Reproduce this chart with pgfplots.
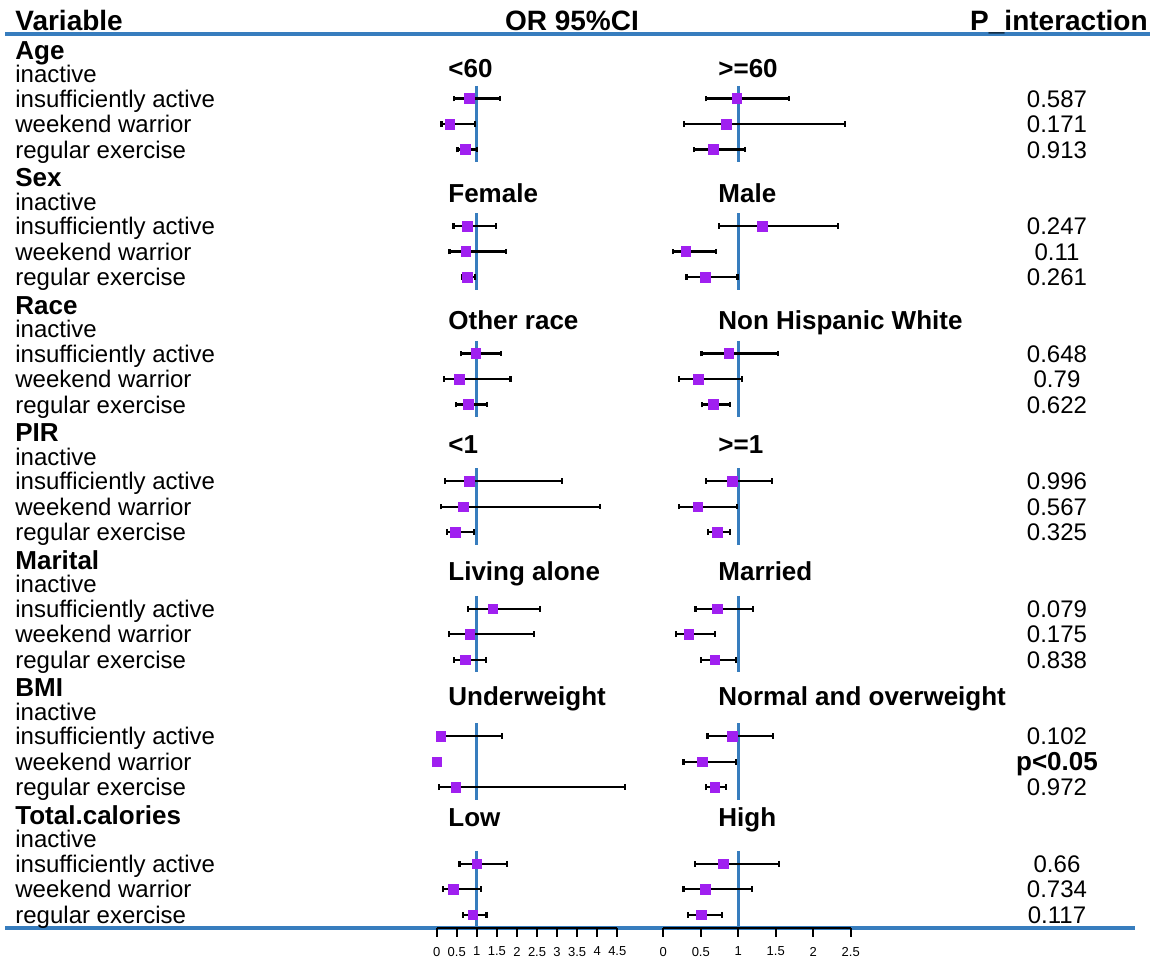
\documentclass[border=0pt]{standalone}
\usepackage{fontspec}
\setmainfont{Liberation Sans}
\usepackage{pgfplots}
\pgfplotsset{compat=1.18}
\usepackage{pgfplotstable}
\definecolor{refblue}{RGB}{55,125,190}
\definecolor{ptpurple}{RGB}{160,32,240}
\newcommand\bodyf{\fontsize{12}{14}\selectfont}
\newcommand\hdrf{\bfseries\fontsize{14}{16}\selectfont}
\newcommand\grpf{\bfseries\fontsize{13}{15}\selectfont}

\pgfplotstableread{
r or lo hi
1 0.82 0.43 1.58
2 0.33 0.12 0.96
3 0.71 0.52 1.00
6 0.77 0.42 1.48
7 0.73 0.32 1.73
8 0.77 0.63 0.96
11 0.98 0.61 1.60
12 0.57 0.18 1.84
13 0.79 0.49 1.25
16 0.82 0.21 3.12
17 0.67 0.11 4.06
18 0.47 0.25 0.92
21 1.40 0.77 2.57
22 0.83 0.30 2.43
23 0.72 0.43 1.22
26 0.10 0.09 1.62
27 0.00 0.00 0.00
28 0.48 0.06 4.69
31 1.00 0.57 1.76
32 0.42 0.16 1.11
33 0.90 0.65 1.24
}\leftdata

\pgfplotstableread{
r or lo hi
1 0.98 0.565 1.68
2 0.84 0.28 2.42
3 0.67 0.41 1.09
6 1.32 0.74 2.33
7 0.30 0.125 0.70
8 0.56 0.31 0.99
11 0.876 0.51 1.53
12 0.47 0.21 1.05
13 0.67 0.52 0.885
16 0.92 0.57 1.45
17 0.46 0.21 0.98
18 0.725 0.60 0.885
21 0.725 0.43 1.20
22 0.34 0.165 0.69
23 0.69 0.50 0.965
26 0.925 0.59 1.46
27 0.52 0.27 0.97
28 0.69 0.565 0.84
31 0.805 0.42 1.54
32 0.56 0.27 1.18
33 0.51 0.33 0.78
}\rightdata

\pgfplotsset{
  forest/.style={
    anchor=south west, scale only axis, height=447pt,
    ymin=-33.52, ymax=1.537, clip=false,
    axis x line=bottom, axis y line=none,
    x axis line style={-, line width=1pt, black},
    tick style={black, line width=1pt},
    xtick align=outside, major tick length=4.5pt,
    ytick=\empty,
    /pgf/number format/assume math mode=true,
    xticklabel style={font=\fontsize{6.5}{7.5}\selectfont, yshift=-1.5pt},
  },
  fp/.style={only marks, mark=square*, mark size=2.4pt,
    mark options={draw=ptpurple, fill=ptpurple},
    error bars/.cd, x dir=both, x explicit, error mark=|,
    error bar style={line width=1.2pt, black},
    error mark options={line width=1.1pt, black, draw=black, fill=black, mark size=1.4pt}},
  refline/.style={refblue, line width=1.4pt, forget plot},
}

\begin{document}
\begin{tikzpicture}
\path[use as bounding box] (0,0) rectangle (578.5pt,480.5pt);
\begin{scope}[x=0.5pt, y=-0.5pt, shift={(0pt,480.5pt)}]
  \draw[refblue, line width=2pt] (5,34) -- (1150,34);
  \draw[refblue, line width=2pt] (5,928) -- (1135,928);
  \node[anchor=base west, inner sep=0, font=\hdrf] at (15,31) {Variable};
  \node[anchor=base, inner sep=0, font=\hdrf] at (572,31) {OR 95\%CI};
  \node[anchor=base east, inner sep=0, font=\hdrf] at (1148,31) {P\_interaction};
  \foreach \n [count=\g from 0] in {Age,Sex,Race,PIR,Marital,BMI,Total.calories}{
    \node[anchor=base west, inner sep=0, font=\grpf] at (15,{73.2+127.5*\g-14}) {\n};
    \node[anchor=base west, inner sep=0, font=\bodyf] at (15,{73.2+127.5*\g+9.5}) {inactive};
    \node[anchor=base west, inner sep=0, font=\bodyf] at (15,{73.2+127.5*\g+25.5+8.7}) {insufficiently active};
    \node[anchor=base west, inner sep=0, font=\bodyf] at (15,{73.2+127.5*\g+51+8.7}) {weekend warrior};
    \node[anchor=base west, inner sep=0, font=\bodyf] at (15,{73.2+127.5*\g+76.5+8.7}) {regular exercise};
  }
  \foreach \a/\b/\y in {{<60}/{>=60}/77.5, Female/Male/202.7, Other race/Non Hispanic White/329.5,
      {<1}/{>=1}/454, Living alone/Married/580.5, Underweight/Normal and overweight/705.5, Low/High/826.5}{
    \node[anchor=base west, inner sep=0, font=\grpf] at (448,\y) {\a};
    \node[anchor=base west, inner sep=0, font=\grpf] at (718,\y) {\b};
  }
  \foreach \p [count=\i from 0] in {0.587,0.171,0.913,0.247,0.11,0.261,0.648,0.79,0.622,
      0.996,0.567,0.325,0.079,0.175,0.838,0.102,X,0.972,0.66,0.734,0.117}{
    \pgfmathtruncatemacro\gg{int(\i/3)}
    \pgfmathtruncatemacro\kk{\i-3*\gg}
    \pgfmathsetmacro\yy{73.2+25.5*(5*\gg+\kk+1)+8.7}
    \ifnum\i=16
      \node[anchor=base, inner sep=0, font=\grpf] at (1057,\yy) {p<0.05};
    \else
      \node[anchor=base, inner sep=0, font=\bodyf] at (1057,\yy) {\p};
    \fi
  }
\end{scope}

\begin{axis}[forest, at={(218.35pt,16.5pt)}, width=90.3pt,
  xmin=0, xmax=4.5, xtick={0,0.5,1,1.5,2,2.5,3,3.5,4,4.5}]
  \addplot[refline] coordinates {(1,-0.5) (1,-3.5)};
  \addplot[refline] coordinates {(1,-5.5) (1,-8.5)};
  \addplot[refline] coordinates {(1,-10.5) (1,-13.5)};
  \addplot[refline] coordinates {(1,-15.5) (1,-18.5)};
  \addplot[refline] coordinates {(1,-20.5) (1,-23.5)};
  \addplot[refline] coordinates {(1,-25.5) (1,-28.5)};
  \addplot[refline] coordinates {(1,-30.5) (1,-33.5)};
  \addplot[fp] table[x=or, y expr=-\thisrow{r},
    x error plus expr=\thisrow{hi}-\thisrow{or},
    x error minus expr=\thisrow{or}-\thisrow{lo}] {\leftdata};
\end{axis}

\begin{axis}[forest, at={(331.65pt,16.5pt)}, width=93.7pt,
  xmin=0, xmax=2.5, xtick={0,0.5,1,1.5,2,2.5}]
  \addplot[refline] coordinates {(1,-0.5) (1,-3.5)};
  \addplot[refline] coordinates {(1,-5.5) (1,-8.5)};
  \addplot[refline] coordinates {(1,-10.5) (1,-13.5)};
  \addplot[refline] coordinates {(1,-15.5) (1,-18.5)};
  \addplot[refline] coordinates {(1,-20.5) (1,-23.5)};
  \addplot[refline] coordinates {(1,-25.5) (1,-28.5)};
  \addplot[refline] coordinates {(1,-30.5) (1,-33.5)};
  \addplot[fp] table[x=or, y expr=-\thisrow{r},
    x error plus expr=\thisrow{hi}-\thisrow{or},
    x error minus expr=\thisrow{or}-\thisrow{lo}] {\rightdata};
\end{axis}
\end{tikzpicture}
\end{document}
